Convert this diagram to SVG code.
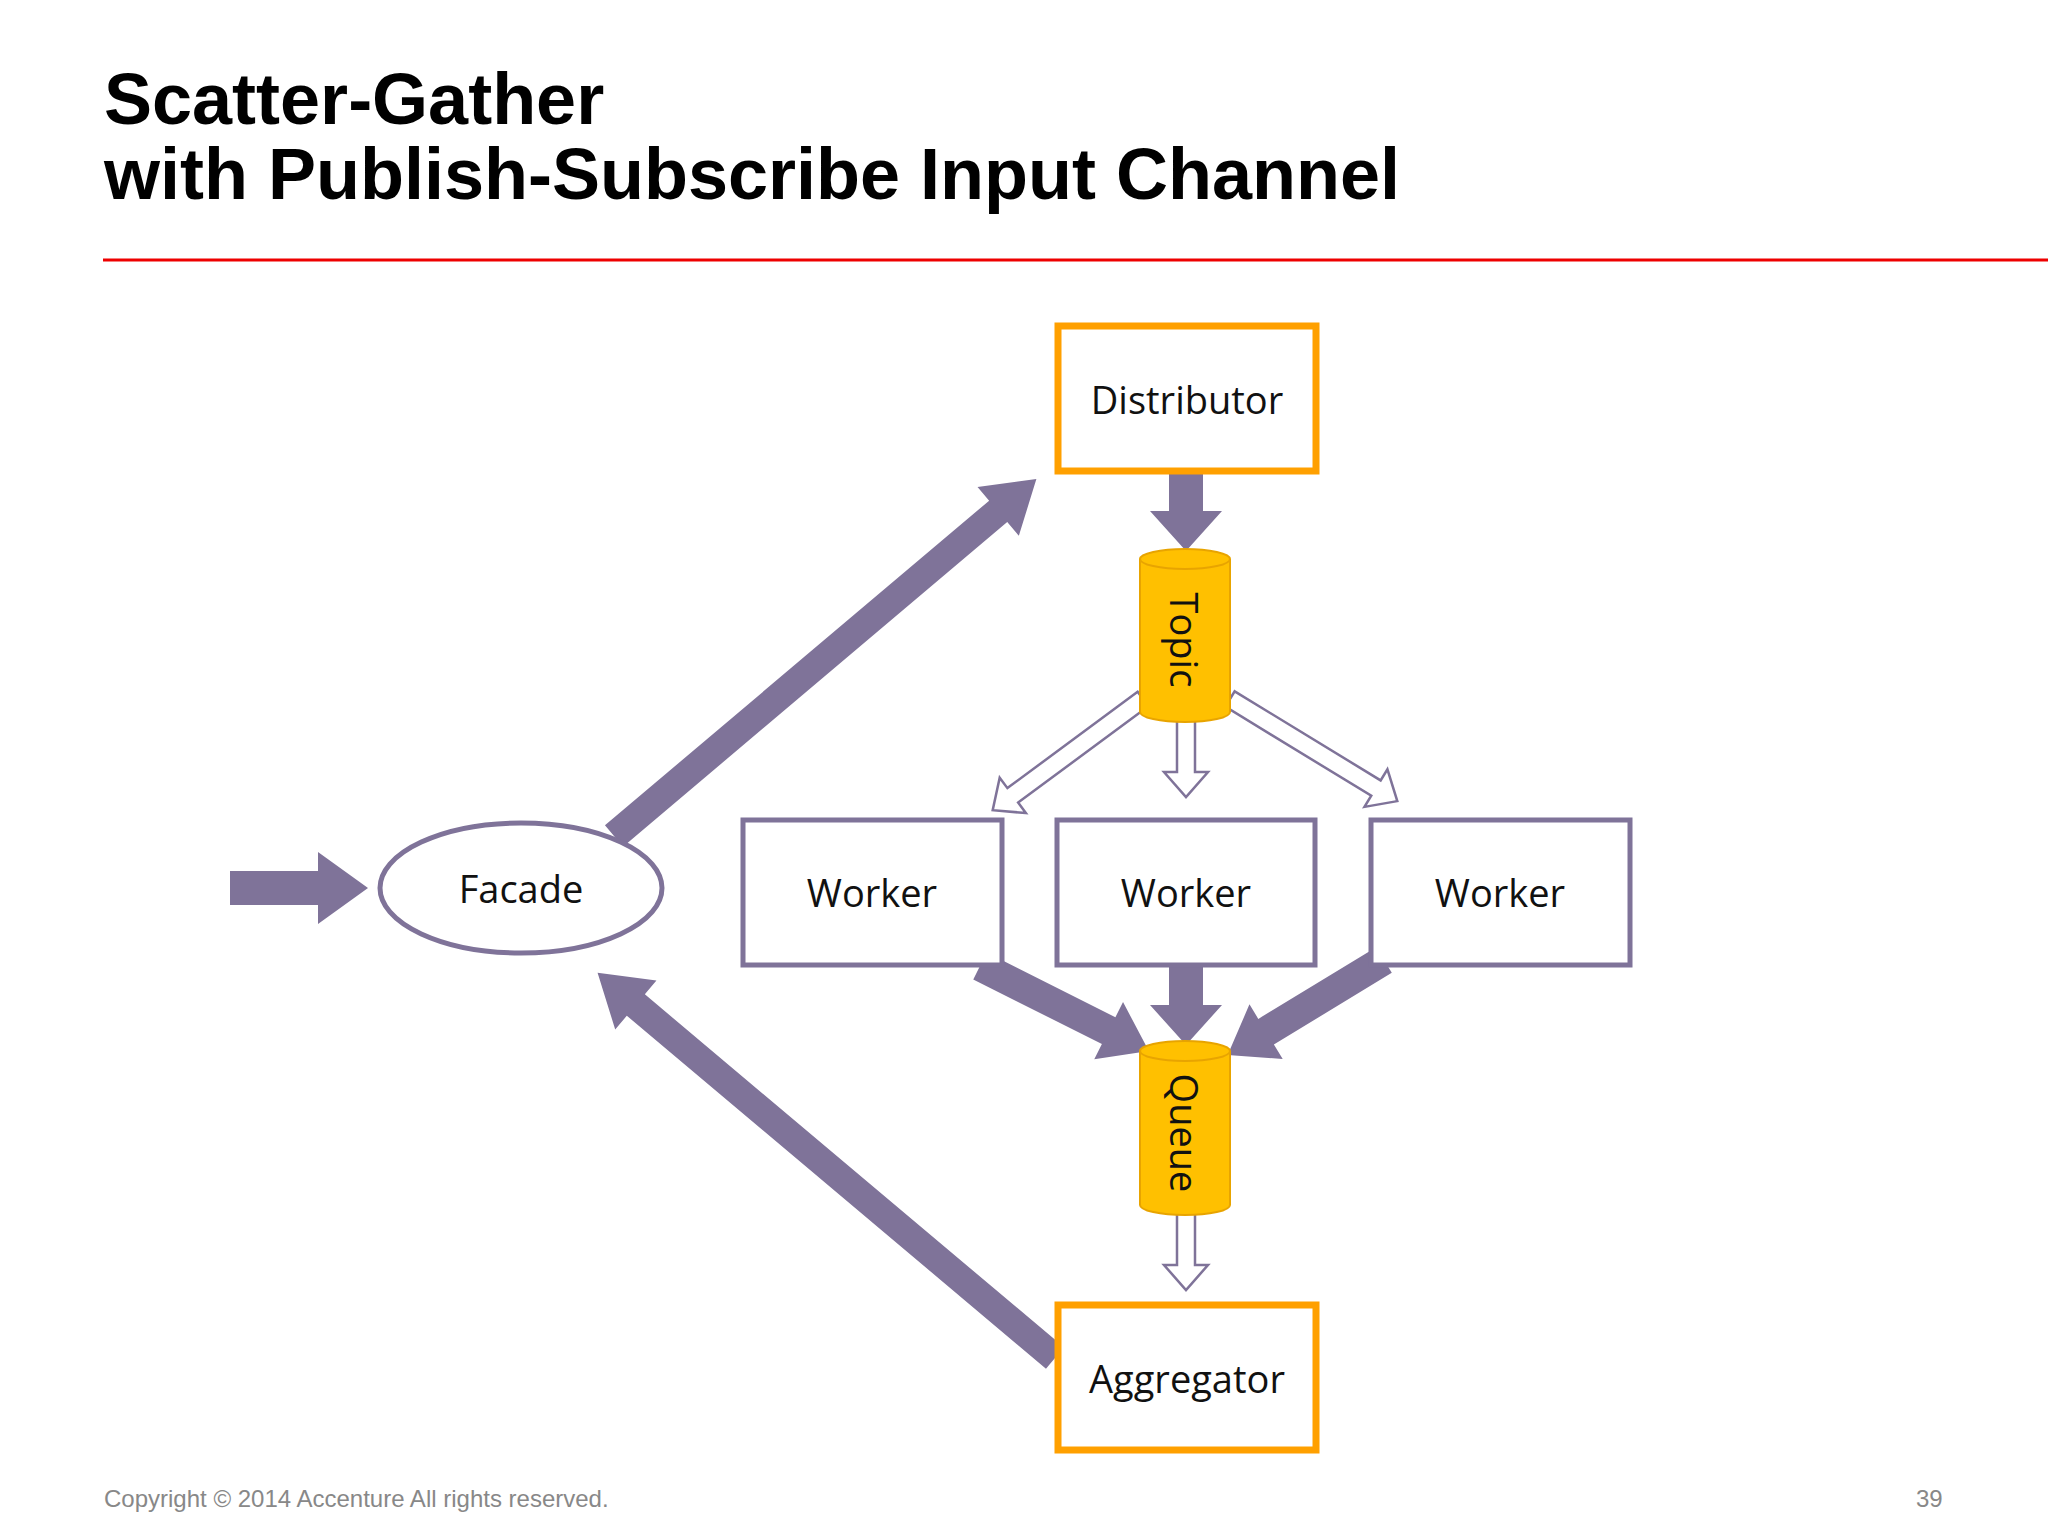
<svg xmlns="http://www.w3.org/2000/svg" width="2048" height="1536" viewBox="0 0 2048 1536">
<style>
.t{font-family:"Liberation Sans",Arial,sans-serif;font-weight:bold;font-size:72px;fill:#000}
.lbl{font-family:"Open Sans","DejaVu Sans",sans-serif;font-size:38px;fill:#111;text-anchor:middle;dominant-baseline:central}
.ob{fill:#fff;stroke:#ffa000;stroke-width:7}
.wb{fill:#fff;stroke:#7f7399;stroke-width:5}
.pa{fill:#7f7399}
.ha{fill:#fff;stroke:#7f7399;stroke-width:2.5}
.cy{fill:#ffc000;stroke:#e8a400;stroke-width:2}
.ft{font-family:"Liberation Sans",Arial,sans-serif;font-size:24px;fill:#888}
</style>
<rect width="2048" height="1536" fill="#fff"/>
<text class="t" x="104" y="124">Scatter-Gather</text>
<text class="t" x="104" y="199">with Publish-Subscribe Input Channel</text>
<line x1="103" y1="260" x2="2048" y2="260" stroke="#e00" stroke-width="3"/>
<g id="connectors">
<polygon class="pa" transform="translate(230,888)" points="0,-17 88,-17 88,-36 138,0 88,36 88,17 0,17"/>
<polygon class="pa" transform="translate(614,836) rotate(-40.2)" points="0,-14 503,-14 503,-32 553,0 503,32 503,14 0,14"/>
<polygon class="pa" transform="translate(1055,1358) rotate(220.1)" points="0,-14 548,-14 548,-32 598,0 548,32 548,14 0,14"/>
<polygon class="pa" transform="translate(1186,473) rotate(90)" points="0,-17 38,-17 38,-36 78,0 38,36 38,17 0,17"/>
<polygon class="pa" transform="translate(980,966) rotate(26.7)" points="0,-15 144,-15 144,-32 189,0 144,32 144,15 0,15"/>
<polygon class="pa" transform="translate(1186,966) rotate(90)" points="0,-17 39,-17 39,-36 79,0 39,36 39,17 0,17"/>
<polygon class="pa" transform="translate(1384,960) rotate(148.7)" points="0,-15 138,-15 138,-32 183,0 138,32 138,15 0,15"/>
<polygon class="ha" transform="translate(1143,699) rotate(143.5)" points="0,-9 162,-9 162,-22 187,0 162,22 162,9 0,9"/>
<polygon class="ha" transform="translate(1186,715) rotate(90)" points="0,-9 57,-9 57,-22 82,0 57,22 57,9 0,9"/>
<polygon class="ha" transform="translate(1230,699) rotate(31.4)" points="0,-9 171,-9 171,-22 196,0 171,22 171,9 0,9"/>
<polygon class="ha" transform="translate(1186,1210) rotate(90)" points="0,-9 55,-9 55,-22 80,0 55,22 55,9 0,9"/>
</g>
<g id="distributor"><rect class="ob" x="1058" y="326" width="258" height="145"/><text class="lbl" x="1187" y="399">Distributor</text></g>
<g id="topic"><path class="cy" d="M1140,559 L1140,712 A45,10 0 0 0 1230,712 L1230,559"/><ellipse class="cy" cx="1185" cy="559" rx="45" ry="10" fill="#ffd54a"/><text class="lbl" transform="translate(1185,640) rotate(90)">Topic</text></g>
<g id="facade"><ellipse cx="521" cy="888" rx="141" ry="65" fill="#fff" stroke="#7f7399" stroke-width="5"/><text class="lbl" x="521" y="888">Facade</text></g>
<g id="worker1"><rect class="wb" x="743" y="820" width="259" height="145"/><text class="lbl" x="872" y="892">Worker</text></g>
<g id="worker2"><rect class="wb" x="1057" y="820" width="258" height="145"/><text class="lbl" x="1186" y="892">Worker</text></g>
<g id="worker3"><rect class="wb" x="1371" y="820" width="259" height="145"/><text class="lbl" x="1500" y="892">Worker</text></g>
<g id="queue"><path class="cy" d="M1140,1051 L1140,1205 A45,10 0 0 0 1230,1205 L1230,1051"/><ellipse class="cy" cx="1185" cy="1051" rx="45" ry="10" fill="#ffd54a"/><text class="lbl" transform="translate(1185,1133) rotate(90)">Queue</text></g>
<g id="aggregator"><rect class="ob" x="1058" y="1305" width="258" height="145"/><text class="lbl" x="1187" y="1378">Aggregator</text></g>
<text class="ft" x="104" y="1507">Copyright © 2014 Accenture  All rights reserved.</text>
<text class="ft" x="1916" y="1507">39</text>
</svg>
